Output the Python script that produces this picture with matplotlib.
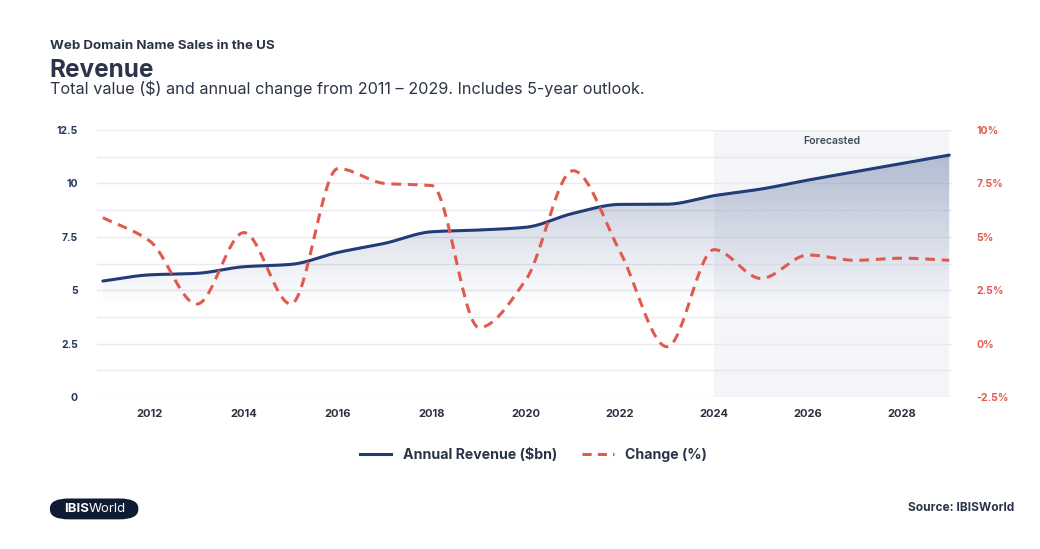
import numpy as np
import matplotlib.pyplot as plt
from matplotlib.patches import FancyBboxPatch

plt.rcParams['font.family'] = ['Inter', 'DejaVu Sans']

years = np.arange(2011, 2030)
revenue = [5.43, 5.72, 5.79, 6.10, 6.21, 6.77, 7.20, 7.74, 7.82, 7.95,
           8.60, 9.02, 9.03, 9.43, 9.74, 10.16, 10.55, 10.94, 11.33]
change = [5.9, 4.8, 1.85, 5.2, 1.85, 8.2, 7.5, 7.4, 0.75, 3.0,
          8.1, 4.3, -0.15, 4.4, 3.05, 4.15, 3.9, 4.0, 3.9]
forecast_start = 2024

navy = '#213c78'
red = '#e05a50'
dark = '#2c3447'


def smooth(x, y, n=30):
    # monotone cubic Hermite curve through every point (flat at peaks)
    x = np.asarray(x, float)
    y = np.asarray(y, float)
    h = np.diff(x)
    d = np.diff(y) / h
    m = np.zeros_like(y)
    m[0], m[-1] = d[0], d[-1]
    for i in range(1, len(y) - 1):
        if d[i - 1] * d[i] > 0:
            m[i] = 2 / (1 / d[i - 1] + 1 / d[i])
    xs, ys = [], []
    t = np.linspace(0, 1, n, endpoint=False)
    for i in range(len(x) - 1):
        h00 = 2 * t**3 - 3 * t**2 + 1
        h10 = t**3 - 2 * t**2 + t
        h01 = -2 * t**3 + 3 * t**2
        h11 = t**3 - t**2
        xs.append(x[i] + t * h[i])
        ys.append(h00 * y[i] + h10 * h[i] * m[i] + h01 * y[i + 1] + h11 * h[i] * m[i + 1])
    xs.append([x[-1]])
    ys.append([y[-1]])
    return np.concatenate(xs), np.concatenate(ys)


fig = plt.figure(figsize=(10.4, 5.49), dpi=100)
ax = fig.add_axes([0.093, 0.277, 0.822, 0.486])
ax2 = ax.twinx()

ax.set_xlim(2010.87, 2029.05)
ax.set_ylim(0, 12.5)
ax2.set_ylim(-2.5, 10)

# forecast band
ax.axvspan(forecast_start, 2029, color='#f3f5f9', zorder=0, lw=0)
ax.text((forecast_start + 2029) / 2, 12.0, 'Forecasted', ha='center', va='center',
        fontsize=7.5, fontweight='semibold', color='#444b5a')

for v in np.arange(0, 12.6, 1.25):
    ax.axhline(v, color='#e9e9ee', lw=1, zorder=1)

rx, ry = smooth(years, revenue)
cx, cy = smooth(years, change)

# gradient fill under revenue
grad = np.linspace(0, 1, 256).reshape(-1, 1)
alpha = np.clip((grad * 12.5 - 4.3) / (11.5 - 4.3), 0, 1) * 0.32
rgba = np.zeros((256, 1, 4))
rgba[..., :3] = np.array([33, 60, 120]) / 255
rgba[..., 3] = alpha
im = ax.imshow(rgba, extent=[2010.87, 2029.05, 0, 12.5], origin='lower',
               aspect='auto', zorder=2)
poly = ax.fill_between(rx, 0, ry, color='none', lw=0)
im.set_clip_path(poly.get_paths()[0], transform=ax.transData)

ax.plot(rx, ry, color=navy, lw=2.2, zorder=4, solid_capstyle='round')
ax2.plot(cx, cy, color=red, lw=2.2, ls=(0, (3.2, 2.2)), zorder=4)

ax.set_yticks(np.arange(0, 12.6, 2.5))
ax.set_yticklabels(['0', '2.5', '5', '7.5', '10', '12.5'])
ax2.set_yticks(np.arange(-2.5, 10.1, 2.5))
ax2.set_yticklabels(['-2.5%', '0%', '2.5%', '5%', '7.5%', '10%'])
ax.set_xticks(np.arange(2012, 2029, 2))

for a in (ax, ax2):
    for s in a.spines.values():
        s.set_visible(False)
    a.tick_params(length=0)
ax.tick_params(axis='y', labelsize=7.5, labelcolor='#27365e', pad=13.5)
ax.tick_params(axis='x', labelsize=8, labelcolor='#2a3140', pad=9)
ax2.tick_params(axis='y', labelsize=7.5, labelcolor=red, pad=18)
for lbl in ax.get_yticklabels() + ax.get_xticklabels() + ax2.get_yticklabels():
    lbl.set_fontweight('bold')

# legend
ax.plot([], [], color=navy, lw=2.2, label='Annual Revenue ($bn)')
ax.plot([], [], color=red, lw=2.2, ls=(0, (3, 2)), label='Change (%)')
fig.legend(loc='center', bbox_to_anchor=(0.513, 0.171), ncol=2, frameon=False,
           prop={'size': 10.2, 'weight': 'bold'}, labelcolor='#2c3447',
           handlelength=2.2, columnspacing=1.8)

fig.text(0.048, 0.91, 'Web Domain Name Sales in the US', fontsize=9.6,
         fontweight='bold', color=dark)
fig.text(0.047, 0.86, 'Revenue', fontsize=17.5, fontweight='bold', color=dark)
fig.text(0.048, 0.828, 'Total value ($) and annual change from 2011 – 2029. Includes 5-year outlook.',
         fontsize=11.7, color=dark)

fig.text(0.975, 0.07, 'Source: IBISWorld', ha='right', fontsize=8.6,
         fontweight='bold', color='#2c3447')

pill = FancyBboxPatch((0.048, 0.054), 0.085, 0.038,
                      boxstyle='round,pad=0,rounding_size=0.018',
                      transform=fig.transFigure, facecolor='#0f1b33', lw=0)
fig.patches.append(pill)
t1 = fig.text(0.0615, 0.073, 'IBIS', fontsize=9.5, fontweight='bold',
              color='white', va='center')
fig.canvas.draw()
bb = t1.get_window_extent().transformed(fig.transFigure.inverted())
fig.text(bb.x1, 0.073, 'World', fontsize=9.5, color='white', va='center')

fig.savefig('out.png', dpi=100, facecolor='white')
